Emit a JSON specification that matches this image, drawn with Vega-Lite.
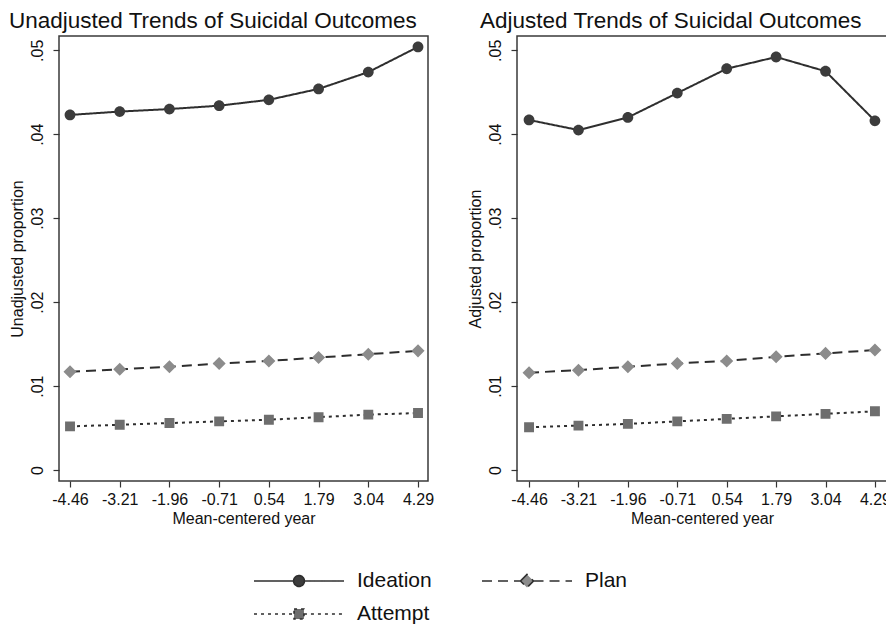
{
  "$schema": "https://vega.github.io/schema/vega-lite/v6.json",
  "padding": {"left": 8, "top": 8, "right": 0, "bottom": 0},
  "background": "white",
  "bounds": "flush",
  "spacing": 89,
  "config": {
    "font": "Liberation Sans",
    "view": {"stroke": "#3a3a3a", "strokeWidth": 1.5},
    "axis": {"grid": false, "domain": false, "tickColor": "#333333", "tickSize": 6, "tickWidth": 1.2, "labelFontSize": 16, "titleFontSize": 16, "labelColor": "#111111", "titleColor": "#111111", "titleFontWeight": "normal"},
    "title": {"fontSize": 22.5, "fontWeight": "normal", "color": "#111111", "anchor": "start", "frame": "bounds", "offset": 4}
  },
  "datasets": {
    "d": [
      {"panel": "Unadjusted", "outcome": "Ideation", "year": -4.46, "value": 0.0423},
      {"panel": "Unadjusted", "outcome": "Ideation", "year": -3.21, "value": 0.0427},
      {"panel": "Unadjusted", "outcome": "Ideation", "year": -1.96, "value": 0.0430},
      {"panel": "Unadjusted", "outcome": "Ideation", "year": -0.71, "value": 0.0434},
      {"panel": "Unadjusted", "outcome": "Ideation", "year": 0.54, "value": 0.0441},
      {"panel": "Unadjusted", "outcome": "Ideation", "year": 1.79, "value": 0.0454},
      {"panel": "Unadjusted", "outcome": "Ideation", "year": 3.04, "value": 0.0474},
      {"panel": "Unadjusted", "outcome": "Ideation", "year": 4.29, "value": 0.0504},
      {"panel": "Unadjusted", "outcome": "Plan", "year": -4.46, "value": 0.0117},
      {"panel": "Unadjusted", "outcome": "Plan", "year": -3.21, "value": 0.0120},
      {"panel": "Unadjusted", "outcome": "Plan", "year": -1.96, "value": 0.0123},
      {"panel": "Unadjusted", "outcome": "Plan", "year": -0.71, "value": 0.0127},
      {"panel": "Unadjusted", "outcome": "Plan", "year": 0.54, "value": 0.0130},
      {"panel": "Unadjusted", "outcome": "Plan", "year": 1.79, "value": 0.0134},
      {"panel": "Unadjusted", "outcome": "Plan", "year": 3.04, "value": 0.0138},
      {"panel": "Unadjusted", "outcome": "Plan", "year": 4.29, "value": 0.0142},
      {"panel": "Unadjusted", "outcome": "Attempt", "year": -4.46, "value": 0.0052},
      {"panel": "Unadjusted", "outcome": "Attempt", "year": -3.21, "value": 0.0054},
      {"panel": "Unadjusted", "outcome": "Attempt", "year": -1.96, "value": 0.0056},
      {"panel": "Unadjusted", "outcome": "Attempt", "year": -0.71, "value": 0.0058},
      {"panel": "Unadjusted", "outcome": "Attempt", "year": 0.54, "value": 0.0060},
      {"panel": "Unadjusted", "outcome": "Attempt", "year": 1.79, "value": 0.0063},
      {"panel": "Unadjusted", "outcome": "Attempt", "year": 3.04, "value": 0.0066},
      {"panel": "Unadjusted", "outcome": "Attempt", "year": 4.29, "value": 0.0068},
      {"panel": "Adjusted", "outcome": "Ideation", "year": -4.46, "value": 0.0417},
      {"panel": "Adjusted", "outcome": "Ideation", "year": -3.21, "value": 0.0405},
      {"panel": "Adjusted", "outcome": "Ideation", "year": -1.96, "value": 0.0420},
      {"panel": "Adjusted", "outcome": "Ideation", "year": -0.71, "value": 0.0449},
      {"panel": "Adjusted", "outcome": "Ideation", "year": 0.54, "value": 0.0478},
      {"panel": "Adjusted", "outcome": "Ideation", "year": 1.79, "value": 0.0492},
      {"panel": "Adjusted", "outcome": "Ideation", "year": 3.04, "value": 0.0475},
      {"panel": "Adjusted", "outcome": "Ideation", "year": 4.29, "value": 0.0416},
      {"panel": "Adjusted", "outcome": "Plan", "year": -4.46, "value": 0.0116},
      {"panel": "Adjusted", "outcome": "Plan", "year": -3.21, "value": 0.0119},
      {"panel": "Adjusted", "outcome": "Plan", "year": -1.96, "value": 0.0123},
      {"panel": "Adjusted", "outcome": "Plan", "year": -0.71, "value": 0.0127},
      {"panel": "Adjusted", "outcome": "Plan", "year": 0.54, "value": 0.0130},
      {"panel": "Adjusted", "outcome": "Plan", "year": 1.79, "value": 0.0135},
      {"panel": "Adjusted", "outcome": "Plan", "year": 3.04, "value": 0.0139},
      {"panel": "Adjusted", "outcome": "Plan", "year": 4.29, "value": 0.0143},
      {"panel": "Adjusted", "outcome": "Attempt", "year": -4.46, "value": 0.0051},
      {"panel": "Adjusted", "outcome": "Attempt", "year": -3.21, "value": 0.0053},
      {"panel": "Adjusted", "outcome": "Attempt", "year": -1.96, "value": 0.0055},
      {"panel": "Adjusted", "outcome": "Attempt", "year": -0.71, "value": 0.0058},
      {"panel": "Adjusted", "outcome": "Attempt", "year": 0.54, "value": 0.0061},
      {"panel": "Adjusted", "outcome": "Attempt", "year": 1.79, "value": 0.0064},
      {"panel": "Adjusted", "outcome": "Attempt", "year": 3.04, "value": 0.0067},
      {"panel": "Adjusted", "outcome": "Attempt", "year": 4.29, "value": 0.0070}
    ]
  },
  "hconcat": [
    {
      "title": {"text": "Unadjusted Trends of Suicidal Outcomes", "dx": 0},
      "width": 369,
      "height": 445,
      "data": {"name": "d"},
      "transform": [{"filter": "datum.panel === 'Unadjusted'"}],
      "encoding": {
        "x": {"field": "year", "type": "quantitative", "scale": {"domain": [-4.737, 4.541], "nice": false, "zero": false},
          "axis": {"values": [-4.46, -3.21, -1.96, -0.71, 0.54, 1.79, 3.04, 4.29], "labelExpr": "datum.value < 0 ? '-' + format(-datum.value, '.2f') : format(datum.value, '.2f')", "title": "Mean-centered year", "labelPadding": 4, "titlePadding": 3, "labelFlush": false, "labelOverlap": false}},
        "y": {"field": "value", "type": "quantitative", "scale": {"domain": [-0.0013, 0.0517], "nice": false, "zero": false},
          "axis": {"values": [0, 0.01, 0.02, 0.03, 0.04, 0.05], "labelExpr": "datum.value == 0 ? '0' : replace(format(datum.value, '.2f'), '0.', '.')", "labelAngle": -90, "labelAlign": "center", "labelBaseline": "bottom", "labelPadding": 8, "title": "Unadjusted proportion", "titlePadding": 4}}
      },
      "layer": [
        {
          "mark": {"type": "line", "color": "#2e2e2e", "strokeWidth": 2},
          "encoding": {
            "strokeDash": {"field": "outcome", "type": "nominal",
              "scale": {"domain": ["Ideation", "Plan", "Attempt"], "range": [[1, 0], [10, 6], [3, 4]]},
              "legend": {"orient": "none", "legendX": 194, "legendY": 535, "direction": "horizontal", "title": null, "columns": 2, "symbolSize": 8100, "symbolStrokeWidth": 1.6, "symbolStrokeColor": "#2e2e2e", "symbolOpacity": 1, "clipHeight": 20, "labelFontSize": 21, "labelColor": "#111111", "labelOffset": 12, "columnPadding": 49, "rowPadding": 12, "padding": 0}}
          }
        },
        {
          "mark": {"type": "point", "filled": true, "opacity": 1, "size": 8100, "strokeWidth": 0},
          "encoding": {
            "shape": {"field": "outcome", "type": "nominal",
              "scale": {"domain": ["Ideation", "Plan", "Attempt"], "range": ["M-1,0H-0.12M0.12,0H1M0.12,0A0.12,0.12,0,1,1,-0.12,0A0.12,0.12,0,1,1,0.12,0Z", "M-1,0H-0.145M0.145,0H1M-0.145,0L0,-0.145L0.145,0L0,0.145Z", "M-1,0H-0.11M0.11,0H1M-0.11,-0.11H0.11V0.11H-0.11Z"]},
              "legend": null},
            "color": {"field": "outcome", "type": "nominal",
              "scale": {"domain": ["Ideation", "Plan", "Attempt"], "range": ["#3c3c3c", "#8c8c8c", "#6e6e6e"]},
              "legend": null}
          }
        }
      ]
    },
    {
      "title": {"text": "Adjusted Trends of Suicidal Outcomes", "dx": 13},
      "width": 370,
      "height": 445,
      "data": {"name": "d"},
      "transform": [{"filter": "datum.panel === 'Adjusted'"}],
      "encoding": {
        "x": {"field": "year", "type": "quantitative", "scale": {"domain": [-4.765, 4.595], "nice": false, "zero": false},
          "axis": {"values": [-4.46, -3.21, -1.96, -0.71, 0.54, 1.79, 3.04, 4.29], "labelExpr": "datum.value < 0 ? '-' + format(-datum.value, '.2f') : format(datum.value, '.2f')", "title": "Mean-centered year", "labelPadding": 4, "titlePadding": 3, "labelFlush": false, "labelOverlap": false}},
        "y": {"field": "value", "type": "quantitative", "scale": {"domain": [-0.0013, 0.0517], "nice": false, "zero": false},
          "axis": {"values": [0, 0.01, 0.02, 0.03, 0.04, 0.05], "labelExpr": "datum.value == 0 ? '0' : replace(format(datum.value, '.2f'), '0.', '.')", "labelAngle": -90, "labelAlign": "center", "labelBaseline": "bottom", "labelPadding": 8, "title": "Adjusted proportion", "titlePadding": 4}}
      },
      "layer": [
        {
          "mark": {"type": "line", "color": "#2e2e2e", "strokeWidth": 2},
          "encoding": {
            "strokeDash": {"field": "outcome", "type": "nominal",
              "scale": {"domain": ["Ideation", "Plan", "Attempt"], "range": [[1, 0], [10, 6], [3, 4]]}}
          }
        },
        {
          "mark": {"type": "point", "filled": true, "opacity": 1, "size": 8100, "strokeWidth": 0},
          "encoding": {
            "shape": {"field": "outcome", "type": "nominal",
              "scale": {"domain": ["Ideation", "Plan", "Attempt"], "range": ["M-1,0H-0.12M0.12,0H1M0.12,0A0.12,0.12,0,1,1,-0.12,0A0.12,0.12,0,1,1,0.12,0Z", "M-1,0H-0.145M0.145,0H1M-0.145,0L0,-0.145L0.145,0L0,0.145Z", "M-1,0H-0.11M0.11,0H1M-0.11,-0.11H0.11V0.11H-0.11Z"]},
              "legend": null},
            "color": {"field": "outcome", "type": "nominal",
              "scale": {"domain": ["Ideation", "Plan", "Attempt"], "range": ["#3c3c3c", "#8c8c8c", "#6e6e6e"]},
              "legend": null}
          }
        }
      ]
    }
  ],
  "resolve": {
    "scale": {"color": "shared", "shape": "shared", "strokeDash": "shared", "x": "independent", "y": "independent"}
  }
}
